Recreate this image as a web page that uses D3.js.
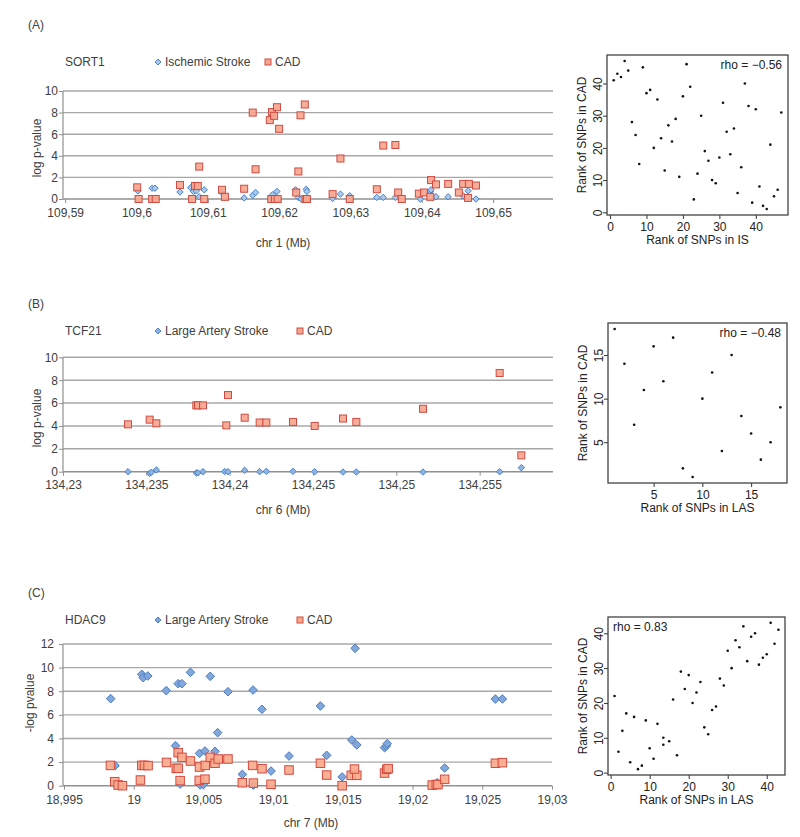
<!DOCTYPE html>
<html>
<head>
<meta charset="utf-8">
<script src="https://cdn.jsdelivr.net/npm/d3@7"></script>
<style>
  body { margin: 0; background: #fff; }
  svg text { font-family: "Liberation Sans", Arial, sans-serif; }
</style>
</head>
<body>
<svg id="fig" width="800" height="837"></svg>
<script>
// ---- locus data: [position (Mb), -log10 p] ----
const sort1IS = [
  [109.6002, 0.75], [109.6022, 1.0], [109.6026, 1.0], [109.6061, 0.65], [109.6076, 1.05],
  [109.6080, 0.7], [109.6084, 0.75], [109.6088, 0.2], [109.6095, 0.85], [109.6120, 0.6],
  [109.6151, 0.1], [109.6163, 0.35], [109.6167, 0.6], [109.6189, 0.15], [109.6191, 0.4],
  [109.6197, 0.7], [109.6199, 0], [109.6223, 0.85], [109.6227, 0.15], [109.6231, 0],
  [109.6238, 0.9], [109.6239, 0.7], [109.6275, 0.05], [109.6286, 0.45], [109.6299, 0.3],
  [109.6337, 0.15], [109.6346, 0.15], [109.6363, 0.15], [109.6398, 0], [109.6412, 0.7],
  [109.6413, 0.85], [109.6420, 0.2], [109.6437, 0.2], [109.6458, 0.3], [109.6465, 0.75],
  [109.6476, 0]
];
const sort1CAD = [
  [109.6001, 1.08], [109.6003, 0], [109.6022, 0], [109.6027, 0], [109.6061, 1.3],
  [109.6078, 0], [109.6082, 1.2], [109.6086, 1.2], [109.6088, 3.0], [109.6095, 0],
  [109.6120, 0.85], [109.6124, 0.2], [109.6151, 0.95], [109.6163, 8.0], [109.6167, 2.75],
  [109.6187, 7.3], [109.6190, 8.05], [109.6193, 7.7], [109.6197, 8.5], [109.6200, 6.5],
  [109.6189, 0], [109.6194, 0], [109.6198, 0], [109.6224, 0.6], [109.6227, 2.55],
  [109.6230, 7.75], [109.6236, 8.75], [109.6237, 0], [109.6239, 0], [109.6275, 0.45],
  [109.6286, 3.75], [109.6299, 0], [109.6337, 0.9], [109.6346, 4.95], [109.6363, 5.0],
  [109.6367, 0.6], [109.6372, 0], [109.6396, 0.5], [109.6403, 0.6], [109.6413, 1.75],
  [109.6412, 0.2], [109.6420, 1.35], [109.6437, 1.4], [109.6452, 0.6], [109.6458, 1.4],
  [109.6466, 1.4], [109.6465, 0.1], [109.6476, 1.25]
];
const tcf21LAS = [
  [134.2339, 0], [134.2352, -0.14], [134.2353, -0.05], [134.2356, 0.15], [134.2380, -0.1],
  [134.2381, -0.1], [134.2384, 0], [134.2397, 0.02], [134.2399, 0], [134.2409, 0.12],
  [134.2418, 0], [134.2422, 0.03], [134.2438, 0.03], [134.2451, 0], [134.2468, -0.03],
  [134.2476, -0.03], [134.2516, -0.03], [134.2562, 0], [134.2575, 0.35]
];
const tcf21CAD = [
  [134.2339, 4.14], [134.2352, 4.55], [134.2356, 4.23], [134.2380, 5.8], [134.2381, 5.8],
  [134.2384, 5.8], [134.2399, 6.7], [134.2398, 4.05], [134.2409, 4.72], [134.2418, 4.3],
  [134.2422, 4.3], [134.2438, 4.35], [134.2451, 4.0], [134.2468, 4.65], [134.2476, 4.35],
  [134.2516, 5.5], [134.2562, 8.63], [134.2575, 1.43]
];
const hdac9LAS = [
  [18.99835, 7.37], [18.99866, 1.7], [19.00058, 9.43], [19.00068, 9.15], [19.00101, 9.29],
  [19.00233, 8.05], [19.00300, 3.39], [19.00319, 2.66], [19.00319, 8.64], [19.00346, 8.64],
  [19.00333, 0.14], [19.00407, 9.6], [19.00472, 2.74], [19.00477, 0.06], [19.00499, 0.1],
  [19.00511, 2.94], [19.00549, 9.26], [19.00583, 2.91], [19.00602, 4.49], [19.00676, 7.96],
  [19.00779, 0.96], [19.00856, 8.1], [19.00858, 0.05], [19.00920, 6.47], [19.00985, 1.24],
  [19.01114, 2.51], [19.01339, 6.75], [19.01384, 2.57], [19.01495, 0.74], [19.01564, 3.87],
  [19.01588, 11.63], [19.01600, 3.45], [19.01799, 3.22], [19.01811, 3.36], [19.01818, 3.56],
  [19.02177, 0.25], [19.02230, 1.5], [19.02594, 7.34], [19.02644, 7.34]
];
const hdac9CAD = [
  [18.99833, 1.72], [18.99864, 0.34], [18.99888, 0.06], [18.99919, 0], [19.00048, 0.48],
  [19.00058, 1.72], [19.00077, 1.72], [19.00103, 1.7], [19.00235, 1.97], [19.00305, 1.47],
  [19.00319, 1.47], [19.00319, 2.8], [19.00333, 0.43], [19.00346, 2.4], [19.00407, 2.09],
  [19.00472, 1.58], [19.00470, 0.45], [19.00511, 0.55], [19.00513, 1.72], [19.00549, 2.4],
  [19.00583, 1.9], [19.00606, 2.26], [19.00676, 2.26], [19.00779, 0.25], [19.00853, 1.72],
  [19.00858, 0.22], [19.00920, 1.44], [19.00985, 0.12], [19.01114, 1.33], [19.01339, 1.9],
  [19.01384, 0.9], [19.01495, 0], [19.01560, 0.88], [19.01600, 0.88], [19.01583, 1.41],
  [19.01799, 1.07], [19.01815, 1.39], [19.01825, 1.45], [19.02141, 0.05], [19.02170, 0.1],
  [19.02182, 0.1], [19.02230, 0.54], [19.02594, 1.9], [19.02644, 1.95]
];

// ---- axis ticks ----
const sort1Ticks = [109.59, 109.6, 109.61, 109.62, 109.63, 109.64, 109.65];
const tcf21Ticks = [134.23, 134.235, 134.24, 134.245, 134.25, 134.255];
const hdac9Ticks = [18.995, 19, 19.005, 19.01, 19.015, 19.02, 19.025, 19.03];
const pTicksAB = [0, 2, 4, 6, 8, 10];
const pTicksC = [0, 2, 4, 6, 8, 10, 12];

// ---- rank data ----
const rankIS_A = [1, 2, 3, 4, 5, 6, 7, 8, 9, 10, 11, 12, 13, 14, 15, 16, 17, 18, 19, 20, 21, 22, 23, 24,
  25, 26, 27, 28, 29, 30, 31, 32, 33, 34, 35, 36, 37, 38, 39, 40, 41, 42, 43, 44, 45, 46, 47];
const rankCAD_A = [41, 43, 42, 47, 44, 28, 24, 15, 45, 37, 38, 20, 35, 23, 13, 27, 22, 29, 11, 36, 46, 39,
  4, 12, 30, 19, 16, 10, 9, 17, 34, 25, 18, 26, 6, 14, 40, 33, 3, 32, 8, 2, 1, 21, 5, 7, 31];
const rankLAS_B = [1, 2, 3, 4, 5, 6, 7, 8, 9, 10, 11, 12, 13, 14, 15, 16, 17, 18];
const rankCAD_B = [18, 14, 7, 11, 16, 12, 17, 2, 1, 10, 13, 4, 15, 8, 6, 3, 5, 9];
const rankLAS_C = [1, 2, 3, 4, 5, 6, 7, 8, 9, 10, 11, 12, 13.5, 13.5, 15, 16, 17, 18, 19, 20, 21, 22,
  23, 24, 25, 26, 27, 28, 29, 30, 31, 32, 33, 34, 35, 36, 37, 38, 39, 40, 41, 42, 43];
const rankCAD_C = [22, 6, 12, 17, 3, 16, 1, 2, 15, 7, 4, 14, 10, 8, 9, 21, 5, 29, 24, 28, 20, 23, 26,
  13, 11, 18, 19, 27, 25, 35, 30, 38, 36, 42, 32, 39, 40, 31, 33, 34, 43, 37, 41];

const svg = d3.select('#fig');
const ink = '#404040';
const grid = '#a8a8a8';

const diamond = h => `M0,${-h}L${h},0L0,${h}L${-h},0Z`;

function locusPanel(p) {
	const g = svg.append('g');
	const x = d3.scaleLinear().domain(p.xDomain).range([p.x0, p.x1]);
	const y = d3.scaleLinear().domain([0, d3.max(p.yTicks)]).range([p.yBottom, p.yTop]);

	g.append('text').attr('x', 28).attr('y', p.letterY + 4).text(p.letter)
		.attr('font-size', 12).attr('fill', ink);

	// gene + legend row
	const ly = p.legendY;
	g.append('text').attr('x', 65).attr('y', ly + 4).text(p.gene).attr('font-size', 12).attr('fill', ink);
	g.append('path').attr('d', diamond(3)).attr('transform', `translate(158,${ly})`)
		.attr('fill', p.blueFill).attr('stroke', p.blueStroke).attr('stroke-width', 1);
	g.append('text').attr('x', 165).attr('y', ly + 4).text(p.blueName).attr('font-size', 12).attr('fill', ink);
	g.append('rect').attr('x', p.sqX - 3).attr('y', ly - 3).attr('width', 6).attr('height', 6)
		.attr('fill', p.redFill).attr('stroke', p.redStroke).attr('stroke-width', 1);
	g.append('text').attr('x', p.sqX + 7).attr('y', ly + 4).text('CAD').attr('font-size', 12).attr('fill', ink);

	// gridlines
	g.selectAll('line.grid')
		.data(p.yTicks.filter(d => d > 0))
		.enter()
		.append('line')
		.attr('x1', 63).attr('x2', p.x1)
		.attr('y1', d => y(d)).attr('y2', d => y(d))
		.attr('stroke', grid).attr('stroke-width', 1.4);

	// y axis
	const yAxis = d3.axisLeft(y).tickValues(p.yTicks).tickSize(4).tickSizeOuter(0).tickPadding(p.yPad);
	const ya = g.append('g').attr('transform', 'translate(63,0)').call(yAxis);
	ya.select('.domain').remove();
	ya.selectAll('line').attr('stroke', '#909090');
	ya.selectAll('text').attr('font-size', 12).attr('fill', ink).attr('font-family', 'Liberation Sans, Arial');
	g.append('line').attr('x1', 63).attr('x2', 63).attr('y1', y(0)).attr('y2', p.yTop)
		.attr('stroke', '#909090').attr('stroke-width', 1.2);

	// x axis
	const xAxis = d3.axisBottom(x).tickValues(p.xTicks).tickSize(4).tickSizeOuter(0).tickPadding(p.xPad)
		.tickFormat(d => String(d).replace('.', ','));
	const xa = g.append('g').attr('transform', `translate(0,${y(0)})`).call(xAxis);
	xa.select('.domain').remove();
	xa.selectAll('line').attr('stroke', '#909090');
	xa.selectAll('text').attr('font-size', 12).attr('fill', ink).attr('font-family', 'Liberation Sans, Arial');
	g.append('line').attr('x1', 63).attr('x2', p.x1).attr('y1', y(0)).attr('y2', y(0))
		.attr('stroke', '#909090').attr('stroke-width', 1.4);

	// titles
	g.append('text').attr('transform', `translate(${p.yTitleX + 4},${p.yTitleY}) rotate(-90)`)
		.attr('text-anchor', 'middle').attr('font-size', 12).attr('fill', ink).text(p.yTitle);
	g.append('text').attr('x', p.xTitleX).attr('y', p.xTitleY + 4)
		.attr('text-anchor', 'middle').attr('font-size', 12).attr('fill', ink).text(p.xTitle);

	// markers
	g.selectAll('path.blue')
		.data(p.blue)
		.enter()
		.append('path')
		.attr('d', diamond(p.dh))
		.attr('transform', d => `translate(${x(d[0])},${y(d[1])})`)
		.attr('fill', p.blueFill).attr('stroke', p.blueStroke).attr('stroke-width', 1);

	g.selectAll('rect.red')
		.data(p.red)
		.enter()
		.append('rect')
		.attr('x', d => x(d[0]) - p.sq / 2)
		.attr('y', d => y(d[1]) - p.sq / 2)
		.attr('width', p.sq).attr('height', p.sq)
		.attr('fill', p.redFill).attr('stroke', p.redStroke).attr('stroke-width', 1)
		.attr('fill-opacity', 0.92);
}

// R-style extension of 4% around the data range
const pad4 = arr => {
	const [a, b] = d3.extent(arr);
	const e = (b - a) * 0.04;
	return [a - e, b + e];
};

function rankPanel(p) {
	const g = svg.append('g');
	const x = d3.scaleLinear().domain(pad4(p.xs)).range([p.left, p.right]);
	const y = d3.scaleLinear().domain(pad4(p.ys)).range([p.bottom, p.top]);

	const xa = g.append('g').attr('transform', `translate(0,${p.bottom})`)
		.call(d3.axisBottom(x).tickValues(p.xTicks).tickSize(4).tickSizeOuter(0).tickPadding(3));
	xa.select('.domain').remove();
	xa.selectAll('line').attr('stroke', '#333');
	xa.selectAll('text').attr('font-size', 12).attr('fill', '#222').attr('font-family', 'Liberation Sans, Arial');

	const ya = g.append('g').attr('transform', `translate(${p.left},0)`)
		.call(d3.axisLeft(y).tickValues(p.yTicks).tickSize(4).tickSizeOuter(0));
	ya.select('.domain').remove();
	ya.selectAll('line').attr('stroke', '#333');
	ya.selectAll('text')
		.attr('x', null).attr('dy', null)
		.attr('transform', 'translate(-5,0) rotate(-90)')
		.attr('text-anchor', 'middle')
		.attr('font-size', 12).attr('fill', '#222').attr('font-family', 'Liberation Sans, Arial');

	g.append('rect').attr('x', p.left).attr('y', p.top)
		.attr('width', p.right - p.left).attr('height', p.bottom - p.top)
		.attr('fill', 'none').attr('stroke', '#444').attr('stroke-width', 1.3);

	g.selectAll('circle')
		.data(p.xs.map((v, i) => [v, p.ys[i]]))
		.enter()
		.append('circle')
		.attr('cx', d => x(d[0])).attr('cy', d => y(d[1]))
		.attr('r', 1.3).attr('fill', '#111');

	const rt = g.append('text').attr('y', p.top + 14).attr('font-size', 12).attr('fill', '#222').text(p.rho);
	if (p.rhoLeft) rt.attr('x', p.left + 5);
	else rt.attr('x', p.right - 6).attr('text-anchor', 'end');

	g.append('text').attr('x', (p.left + p.right) / 2).attr('y', p.bottom + 29)
		.attr('text-anchor', 'middle').attr('font-size', 12).attr('fill', '#222').text(p.xTitle);
	g.append('text').attr('transform', `translate(${p.left - 21},${(p.top + p.bottom) / 2}) rotate(-90)`)
		.attr('text-anchor', 'middle').attr('font-size', 12).attr('fill', '#222').text('Rank of SNPs in CAD');
}

const lightBlue = '#a9caee', blueEdge = '#4a83c6';
const salmon = '#f6a68f', redEdge = '#cf4b42';

locusPanel({
	letter: '(A)', letterY: 25, legendY: 62, gene: 'SORT1',
	blueName: 'Ischemic Stroke', sqX: 268,
	xDomain: [109.5897, 109.6584], x0: 63, x1: 553, xTicks: sort1Ticks, xPad: 5,
	yTicks: pTicksAB, yBottom: 199, yTop: 91, yPad: 1,
	yTitle: 'log p-value', yTitleX: 37, yTitleY: 148,
	xTitle: 'chr 1 (Mb)', xTitleX: 283, xTitleY: 243,
	blue: sort1IS, red: sort1CAD, dh: 3.2, sq: 7,
	blueFill: lightBlue, blueStroke: blueEdge, redFill: salmon, redStroke: redEdge
});

locusPanel({
	letter: '(B)', letterY: 304, legendY: 331, gene: 'TCF21',
	blueName: 'Large Artery Stroke', sqX: 300,
	xDomain: [134.23, 134.2594], x0: 63, x1: 553, xTicks: tcf21Ticks, xPad: 5,
	yTicks: pTicksAB, yBottom: 471.7, yTop: 357.3, yPad: 1,
	yTitle: 'log p-value', yTitleX: 37, yTitleY: 418,
	xTitle: 'chr 6 (Mb)', xTitleX: 283, xTitleY: 510,
	blue: tcf21LAS, red: tcf21CAD, dh: 3.2, sq: 7,
	blueFill: '#8fb4e3', blueStroke: blueEdge, redFill: salmon, redStroke: redEdge
});

locusPanel({
	letter: '(C)', letterY: 593, legendY: 620, gene: 'HDAC9',
	blueName: 'Large Artery Stroke', sqX: 300,
	xDomain: [18.995, 19.03], x0: 64, x1: 552, xTicks: hdac9Ticks, xPad: 6,
	yTicks: pTicksC, yBottom: 785.7, yTop: 644, yPad: 5,
	yTitle: '-log pvalue', yTitleX: 30, yTitleY: 703,
	xTitle: 'chr 7 (Mb)', xTitleX: 311, xTitleY: 823,
	blue: hdac9LAS, red: hdac9CAD, dh: 4.3, sq: 8.5,
	blueFill: '#82a7db', blueStroke: '#4a7cc0', redFill: '#f8a98b', redStroke: '#d5493f'
});

rankPanel({
	xs: rankIS_A, ys: rankCAD_A, left: 607, right: 788, top: 55, bottom: 215,
	xTicks: [0, 10, 20, 30, 40], yTicks: [0, 10, 20, 30, 40],
	rho: 'rho = \u22120.56', xTitle: 'Rank of SNPs in IS'
});

rankPanel({
	xs: rankLAS_B, ys: rankCAD_B, left: 608, right: 787, top: 323, bottom: 483,
	xTicks: [5, 10, 15], yTicks: [5, 10, 15],
	rho: 'rho = \u22120.48', xTitle: 'Rank of SNPs in LAS'
});

rankPanel({
	xs: rankLAS_C, ys: rankCAD_C, left: 608, right: 785, top: 617, bottom: 775,
	xTicks: [0, 10, 20, 30, 40], yTicks: [0, 10, 20, 30, 40],
	rho: 'rho = 0.83', rhoLeft: true, xTitle: 'Rank of SNPs in LAS'
});
</script>
</body>
</html>
